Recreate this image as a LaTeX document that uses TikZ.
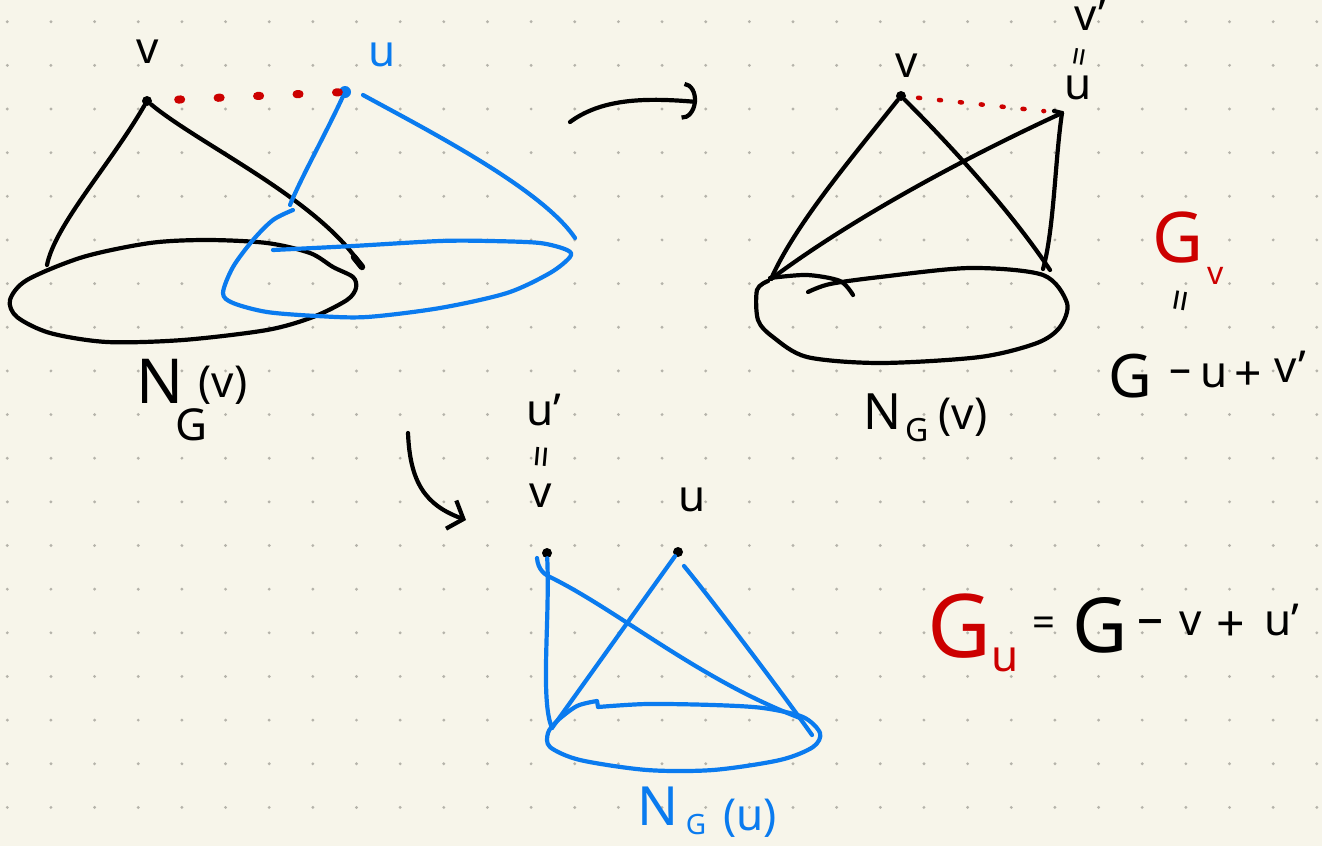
\documentclass[tikz,border=0pt]{standalone}
\usepackage{fontspec}
\setmainfont{Noto Sans}
\usetikzlibrary{arrows.meta,calc}
\definecolor{bg}{HTML}{F7F5EA}
\definecolor{dotc}{HTML}{B5B3AA}
\definecolor{myblue}{HTML}{0A7BEF}
\definecolor{myred}{HTML}{CC0000}
\tikzset{
  blk/.style={draw=black,line width=4.2pt,line cap=round,line join=round},
  blu/.style={draw=myblue,line width=4.2pt,line cap=round,line join=round},
  reddots/.style={draw=myred,line cap=round},
  hw/.style={inner sep=0pt,font=\fontsize{44}{44}\selectfont},
  hwbig/.style={inner sep=0pt,font=\fontsize{62}{62}\selectfont},
  hwsm/.style={inner sep=0pt,font=\fontsize{32}{32}\selectfont},
  hweq/.style={inner sep=0pt,font=\fontsize{40}{40}\selectfont},
  vdot/.style={circle,fill=black,inner sep=0pt,minimum size=10pt},
  vdotb/.style={circle,fill=myblue,inner sep=0pt,minimum size=12pt},
}
\begin{document}
\begin{tikzpicture}[x=1pt,y=-1pt]
\fill[bg] (0,0) rectangle (1322,846);
\useasboundingbox (0,0) rectangle (1322,846);
\foreach \i in {0,...,30}{\foreach \j in {0,...,18}{\fill[dotc] (7.3+\i*43.65,21.7+\j*43.65) circle (1.6pt);}}

% ---------------- left figure ----------------
\node[vdot] (v1) at (147,101) {};
\node[vdotb] (u1) at (345,92) {};
\node[hw] (lv1) at (148,52) {v};
\node[hw,text=myblue] (lu1) at (382,55) {u};
\draw[reddots,line width=8pt,dash pattern=on 3pt off 36.5pt,shorten <=26pt] (v1) -- (u1);
\coordinate (a1) at (47,265);
\coordinate (a2) at (362,267);
\draw[blk] (v1) .. controls (110,165) and (55,225) .. (a1);
\draw[blk] (v1) .. controls (200,145) and (320,200) .. (a2);
\draw[blk,line width=6.5pt] (354,257) -- (a2);
\draw[blk] plot[smooth cycle] coordinates {(10,300) (27,280) (83,257) (150,243) (207,240) (267,243) (310,253) (333,267) (353,277) (356,288) (347,300) (313,317) (267,330) (183,340) (107,342) (50,333) (17,317)};
\coordinate (b1) at (290,205);
\draw[blu] (u1) .. controls (325,135) and (300,180) .. (b1);
\draw[blu] plot[smooth] coordinates {(293,210) (273,220) (253,240) (233,267) (223,293) (233,303) (267,312) (317,316) (367,317) (440,308) (507,293) (550,273) (570,257) (567,250) (540,243) (490,241) (440,241) (353,246) (273,250)};
\coordinate (b2) at (575,238);
\draw[blu] ($(u1)+(18,3)$) .. controls (429,131) and (542,189) .. (b2);
\node[hwbig] (N1) at (160,381) {N};
\node[hw] (G1) at (192,425) {G};
\node[hw] (p1) at (223,385) {(v)};

% ---------------- arrow 1 ----------------
\coordinate (ar1s) at (570,122);
\coordinate (ar1e) at (697,102);
\draw[blk,-{Arc Barb[length=14pt,width=38pt]}] (ar1s) .. controls (600,100) and (640,97) .. (ar1e);

% ---------------- top right figure ----------------
\node[vdot] (v2) at (901,96) {};
\coordinate (w2) at (1062,113);
\node[hw] (lv2) at (907,66) {v};
\node[hw] (lvp2) at (1090,15) {v'};
\node[hweq,font=\fontsize{34}{34}\selectfont,rotate=80] (eq2) at (1083,57) {=};
\node[hw] (lu2) at (1078,88) {u};
\draw[reddots,line width=4.5pt,dash pattern=on 2pt off 19pt,shorten <=12pt,shorten >=18pt] (v2) -- (w2);
\coordinate (c1) at (771,279);
\coordinate (c2) at (1050,270);
\coordinate (c3) at (1043,269);
\draw[blk] (v2) .. controls (850,160) and (795,225) .. (c1);
\draw[blk] (v2) .. controls (950,145) and (1010,210) .. (c2);
\draw[blk] (w2) .. controls (960,160) and (850,220) .. (c1);
\draw[blk] (w2) .. controls (1055,160) and (1054,230) .. (c3);
\draw[blk] (1054,111) -- (w2);
\draw[blk] plot[smooth] coordinates {(808,292) (830,284) (880,277) (970,268) (1043,275) (1067,303) (1060,327) (1037,343) (980,357) (880,363) (807,357) (773,337) (758,320) (757,290) (768,281)};
\draw[blk] plot[smooth] coordinates {(770,278) (807,275) (840,281) (853,295)};
\node[hwbig,font=\fontsize{50}{50}\selectfont] (N2) at (882,412) {N};
\node[hwsm] (G2) at (917,430) {G};
\node[hw] (p2) at (963,417) {(v)};
\node[hwbig,font=\fontsize{70}{70}\selectfont,text=myred] (Gv) at (1178,238) {G};
\node[hwsm,text=myred] (sv) at (1216,276) {v};
\node[hweq,rotate=80] (eq3) at (1185,302) {=};
\node[hwbig,font=\fontsize{60}{60}\selectfont] (G3) at (1130,376) {G};
\node[hw] (m3) at (1180,377) {–};
\node[hw] (u3t) at (1214,376) {u};
\node[hw,font=\fontsize{48}{48}\selectfont] (pl3) at (1248,376) {+};
\node[hw] (vp3) at (1290,367) {v'};

% ---------------- arrow 2 ----------------
\coordinate (ar2s) at (408,433);
\coordinate (ar2e) at (466,520);
\draw[blk,-{Straight Barb[length=13pt,width=30pt]}] (ar2s) .. controls (410,482) and (425,505) .. (ar2e);

% ---------------- bottom figure ----------------
\node[hw] (lup) at (544,410) {u'};
\node[hweq,rotate=85] (eq4) at (546,457) {=};
\node[hw] (lv3) at (541,496) {v};
\node[hw] (lu3) at (692,500) {u};
\node[vdot] (v3) at (547,553) {};
\node[vdot] (u3) at (678,552) {};
\coordinate (d1) at (552,728);
\coordinate (d2) at (800,718);
\coordinate (d3) at (812,735);
\draw[blu] (v3) .. controls (550,620) and (540,700) .. (d1);
\draw[blu] (537,558) .. controls (538,570) and (545,575) .. (552,578) .. controls (620,612) and (700,680) .. (d2);
\draw[blu] (u3) .. controls (640,605) and (590,675) .. (d1);
\draw[blu] (684,566) .. controls (712,600) and (780,690) .. (d3);
\draw[blu] plot[smooth] coordinates {(598,707) (647,704) (713,705) (763,708) (803,717) (820,733) (813,747) (780,760) (713,770) (647,770) (580,760) (550,747) (548,733) (557,721) (577,706) (597,701)} -- (598,707);
\node[hwbig,font=\fontsize{54}{54}\selectfont,text=myblue] (N3) at (658,806) {N};
\node[hwsm,font=\fontsize{28}{28}\selectfont,text=myblue] (G4) at (696,824) {G};
\node[hw,text=myblue] (p3) at (750,818) {(u)};

% ---------------- G_u equation ----------------
\node[hwbig,font=\fontsize{88}{88}\selectfont,text=myred] (Gu) at (960,626) {G};
\node[hw,text=myred] (su) at (1005,660) {u};
\node[hweq] (eq5) at (1044,627) {=};
\node[hwbig,font=\fontsize{76}{76}\selectfont] (G5) at (1100,625) {G};
\node[hw,font=\fontsize{52}{52}\selectfont] (m5) at (1150,628) {–};
\node[hw] (v5) at (1191,624) {v};
\node[hw,font=\fontsize{50}{50}\selectfont] (pl5) at (1231,627) {+};
\node[hw] (up5) at (1282,620) {u'};
\end{tikzpicture}
\end{document}
